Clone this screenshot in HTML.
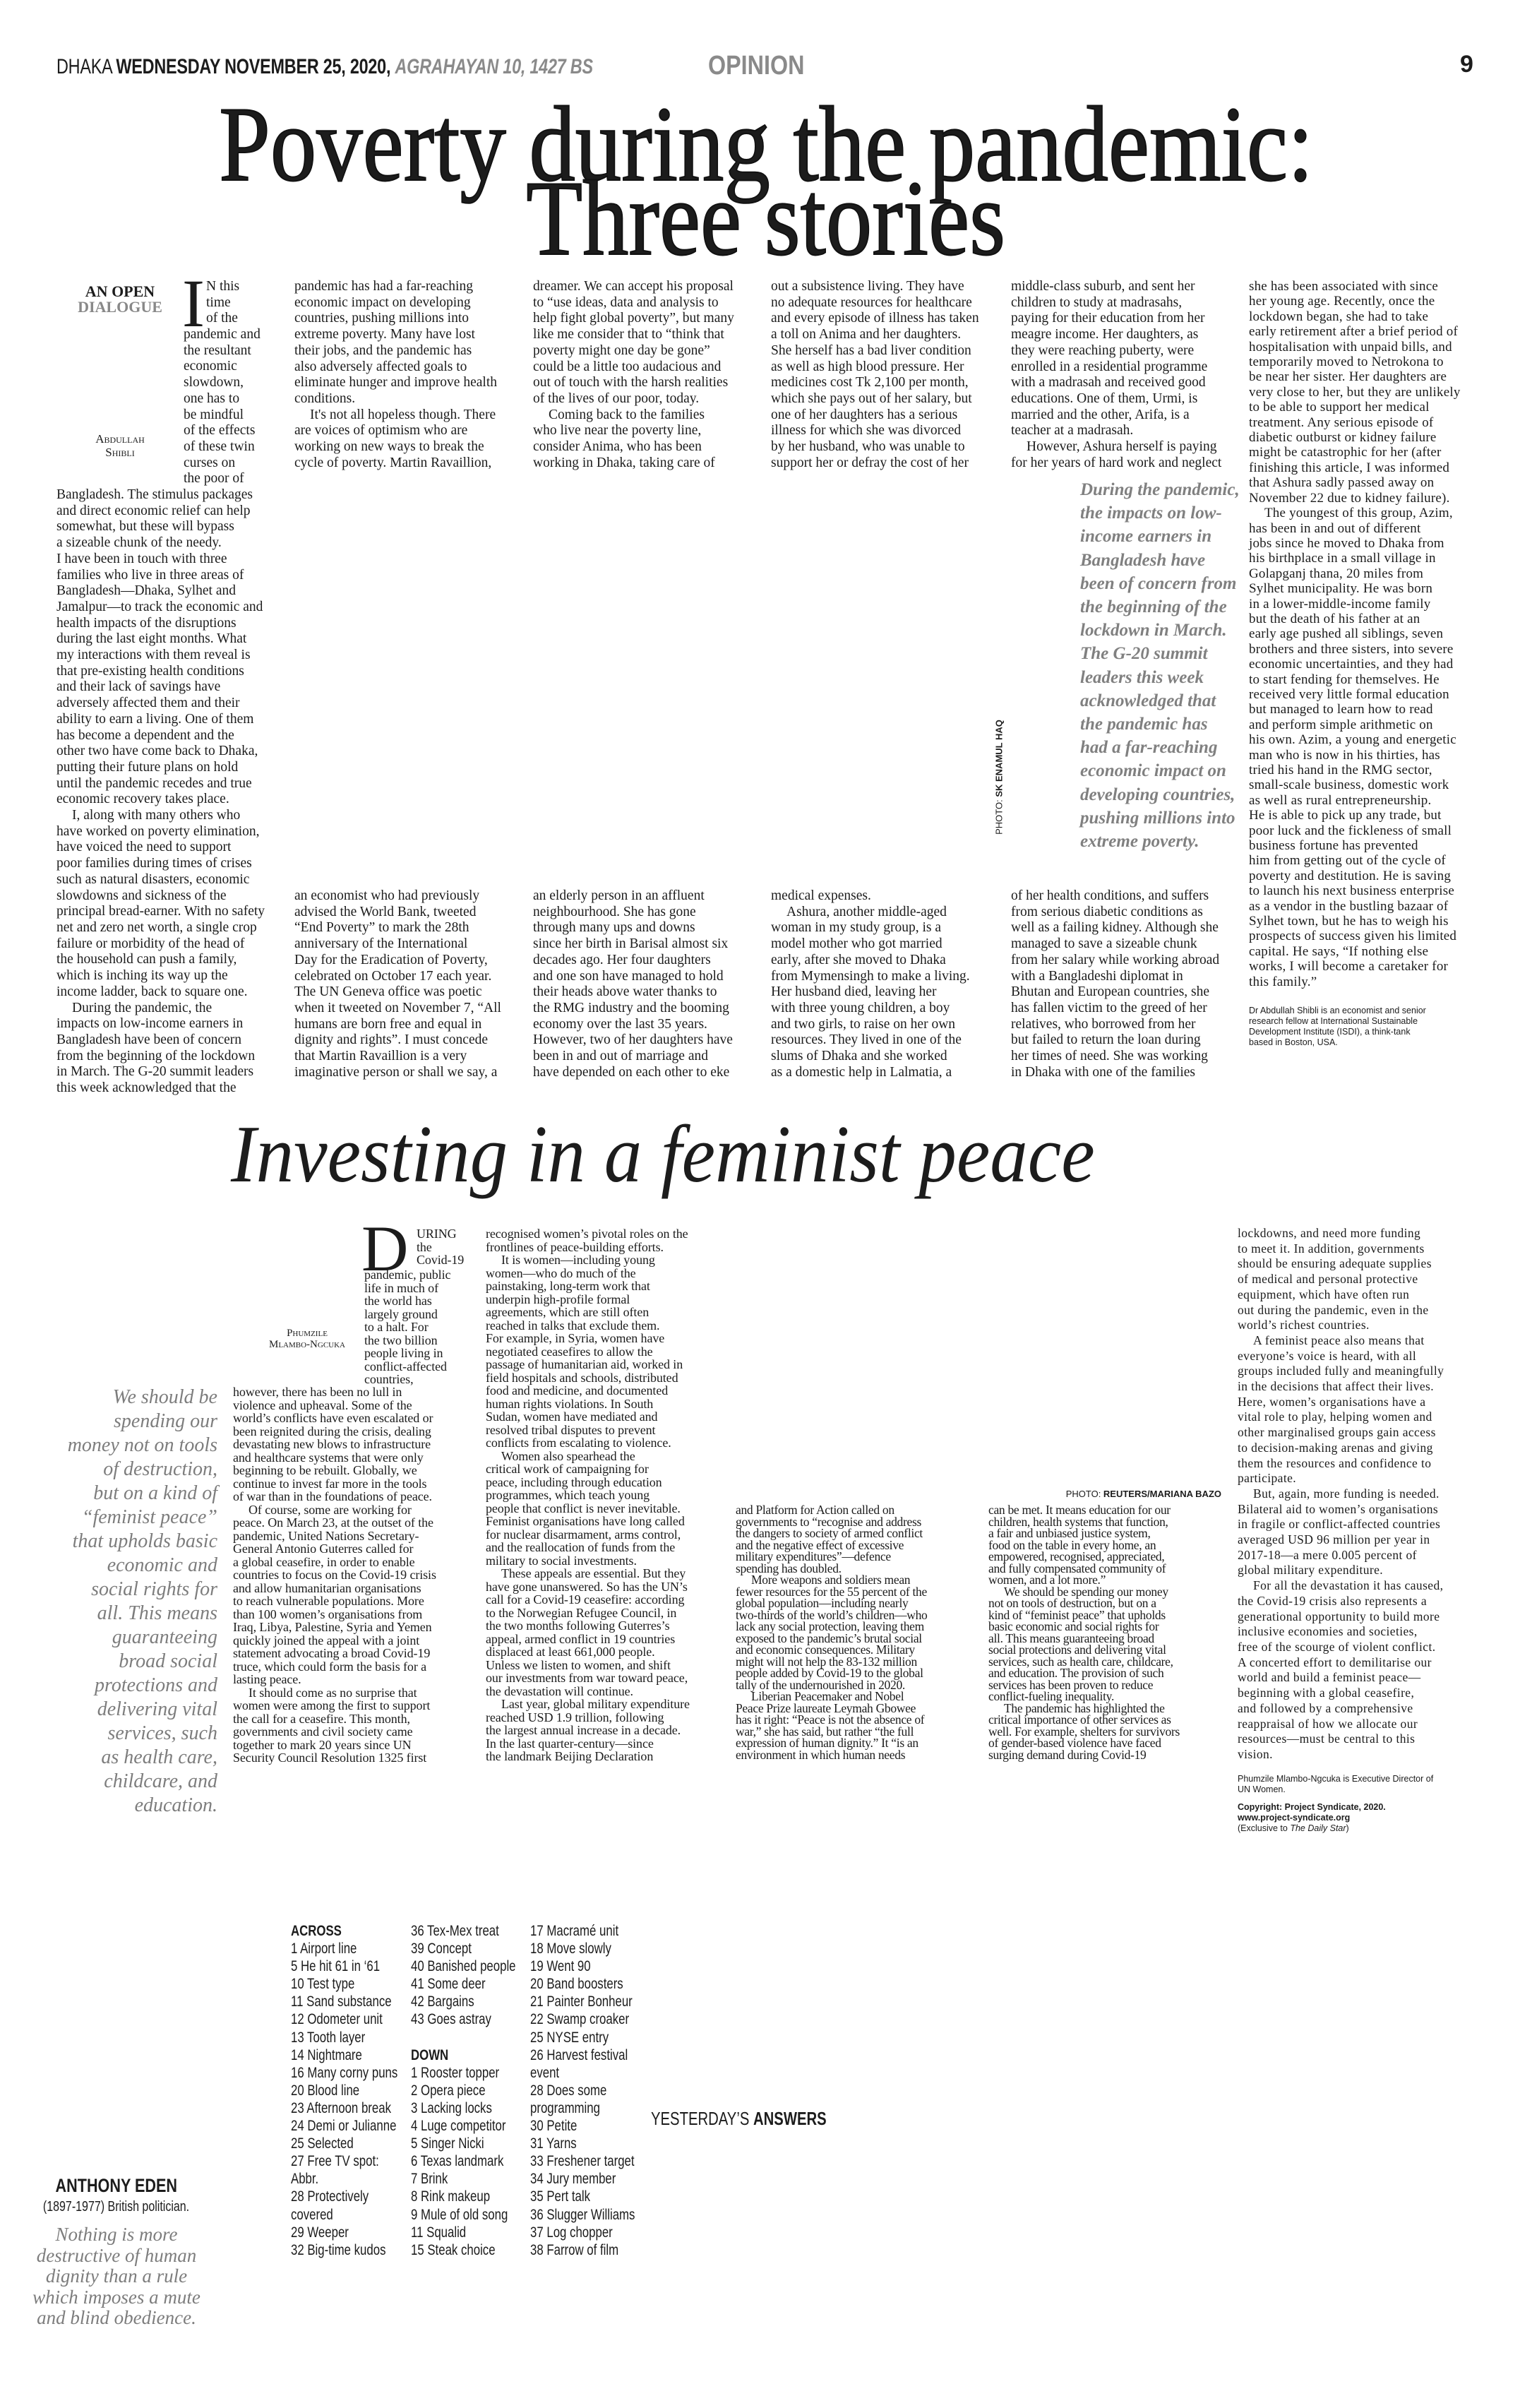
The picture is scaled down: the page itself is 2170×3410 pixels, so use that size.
<!DOCTYPE html>
<html><head><meta charset="utf-8">
<style>
*{margin:0;padding:0;box-sizing:border-box}
body{width:2170px;height:3410px;position:relative;background:#fff;font-family:"Liberation Serif",serif;color:#1c1c1c;overflow:hidden}
.a{position:absolute;white-space:nowrap}
.c1{font-size:19.5px;line-height:22.7px}
.c6{font-size:19px;line-height:21.4px;letter-spacing:.2px}
.c2{font-size:18px;line-height:18.5px;letter-spacing:-.1px}
.cc{font-size:17.5px;line-height:16.5px;letter-spacing:-.3px}
.ce{font-size:17.5px;line-height:21.7px;letter-spacing:.4px}
.i{display:inline-block;width:22px}
.sans{font-family:"Liberation Sans",sans-serif}
.cw{font-family:"Liberation Sans",sans-serif;font-size:21px;line-height:25.1px;transform:scaleX(.8);transform-origin:left top}
.tt{-webkit-text-stroke:2px #111}
</style></head><body>

<!-- header -->
<div class="a sans" style="left:80px;top:78px;font-size:30px;transform:scaleX(.78);transform-origin:left top;letter-spacing:-.3px">DHAKA <b>WEDNESDAY NOVEMBER 25, 2020,</b> <b><i style="color:#8a8a8a">AGRAHAYAN 10, 1427 BS</i></b></div>
<div class="a sans" style="left:1003px;top:72px;font-size:38px;font-weight:bold;color:#8a8a8a;transform:scaleX(.85);transform-origin:left top">OPINION</div>
<div class="a sans" style="left:2068px;top:72px;font-size:34px;font-weight:bold">9</div>

<!-- title -->
<div class="a tt" style="left:0;width:2170px;top:128px;text-align:center;font-size:152px;line-height:152px"><span style="display:inline-block;transform:scaleX(.86)">Poverty during the pandemic:</span></div>
<div class="a tt" style="left:0;width:2170px;top:233px;text-align:center;font-size:152px;line-height:152px"><span style="display:inline-block;transform:scaleX(.86)">Three stories</span></div>

<!-- article 1 byline -->
<div class="a" style="left:90px;width:160px;top:402px;text-align:center;font-size:22px;line-height:22px;font-weight:bold">AN OPEN<br><span style="color:#888">DIALOGUE</span></div>
<div class="a" style="left:90px;width:160px;top:612px;text-align:center;font-size:17px;line-height:19px;font-variant:small-caps">Abdullah<br>Shibli</div>
<div class="a" style="left:258px;top:382px;font-size:96px;line-height:96px">I</div>

<div class="a c1" style="left:292px;top:395px">N this<br>time<br>of the</div>
<div class="a c1" style="left:260px;top:463px">pandemic and<br>the resultant<br>economic<br>slowdown,<br>one has to<br>be mindful<br>of the effects<br>of these twin<br>curses on<br>the poor of</div>
<div class="a c1" style="left:80px;top:690px">Bangladesh. The stimulus packages<br>and direct economic relief can help<br>somewhat, but these will bypass<br>a sizeable chunk of the needy.<br>I have been in touch with three<br>families who live in three areas of<br>Bangladesh—Dhaka, Sylhet and<br>Jamalpur—to track the economic and<br>health impacts of the disruptions<br>during the last eight months. What<br>my interactions with them reveal is<br>that pre-existing health conditions<br>and their lack of savings have<br>adversely affected them and their<br>ability to earn a living. One of them<br>has become a dependent and the<br>other two have come back to Dhaka,<br>putting their future plans on hold<br>until the pandemic recedes and true<br>economic recovery takes place.<br><span class="i"></span>I, along with many others who<br>have worked on poverty elimination,<br>have voiced the need to support<br>poor families during times of crises<br>such as natural disasters, economic<br>slowdowns and sickness of the<br>principal bread-earner. With no safety<br>net and zero net worth, a single crop<br>failure or morbidity of the head of<br>the household can push a family,<br>which is inching its way up the<br>income ladder, back to square one.<br><span class="i"></span>During the pandemic, the<br>impacts on low-income earners in<br>Bangladesh have been of concern<br>from the beginning of the lockdown<br>in March. The G-20 summit leaders<br>this week acknowledged that the</div>

<div class="a c1" style="left:417px;top:395px">pandemic has had a far-reaching<br>economic impact on developing<br>countries, pushing millions into<br>extreme poverty. Many have lost<br>their jobs, and the pandemic has<br>also adversely affected goals to<br>eliminate hunger and improve health<br>conditions.<br><span class="i"></span>It's not all hopeless though. There<br>are voices of optimism who are<br>working on new ways to break the<br>cycle of poverty. Martin Ravaillion,</div>
<div class="a c1" style="left:417px;top:1258px">an economist who had previously<br>advised the World Bank, tweeted<br>“End Poverty” to mark the 28th<br>anniversary of the International<br>Day for the Eradication of Poverty,<br>celebrated on October 17 each year.<br>The UN Geneva office was poetic<br>when it tweeted on November 7, “All<br>humans are born free and equal in<br>dignity and rights”. I must concede<br>that Martin Ravaillion is a very<br>imaginative person or shall we say, a</div>

<div class="a c1" style="left:755px;top:395px">dreamer. We can accept his proposal<br>to “use ideas, data and analysis to<br>help fight global poverty”, but many<br>like me consider that to “think that<br>poverty might one day be gone”<br>could be a little too audacious and<br>out of touch with the harsh realities<br>of the lives of our poor, today.<br><span class="i"></span>Coming back to the families<br>who live near the poverty line,<br>consider Anima, who has been<br>working in Dhaka, taking care of</div>
<div class="a c1" style="left:755px;top:1258px">an elderly person in an affluent<br>neighbourhood. She has gone<br>through many ups and downs<br>since her birth in Barisal almost six<br>decades ago. Her four daughters<br>and one son have managed to hold<br>their heads above water thanks to<br>the RMG industry and the booming<br>economy over the last 35 years.<br>However, two of her daughters have<br>been in and out of marriage and<br>have depended on each other to eke</div>

<div class="a c1" style="left:1092px;top:395px">out a subsistence living. They have<br>no adequate resources for healthcare<br>and every episode of illness has taken<br>a toll on Anima and her daughters.<br>She herself has a bad liver condition<br>as well as high blood pressure. Her<br>medicines cost Tk 2,100 per month,<br>which she pays out of her salary, but<br>one of her daughters has a serious<br>illness for which she was divorced<br>by her husband, who was unable to<br>support her or defray the cost of her</div>
<div class="a c1" style="left:1092px;top:1258px">medical expenses.<br><span class="i"></span>Ashura, another middle-aged<br>woman in my study group, is a<br>model mother who got married<br>early, after she moved to Dhaka<br>from Mymensingh to make a living.<br>Her husband died, leaving her<br>with three young children, a boy<br>and two girls, to raise on her own<br>resources. They lived in one of the<br>slums of Dhaka and she worked<br>as a domestic help in Lalmatia, a</div>

<div class="a c1" style="left:1432px;top:395px">middle-class suburb, and sent her<br>children to study at madrasahs,<br>paying for their education from her<br>meagre income. Her daughters, as<br>they were reaching puberty, were<br>enrolled in a residential programme<br>with a madrasah and received good<br>educations. One of them, Urmi, is<br>married and the other, Arifa, is a<br>teacher at a madrasah.<br><span class="i"></span>However, Ashura herself is paying<br>for her years of hard work and neglect</div>
<div class="a c1" style="left:1432px;top:1258px">of her health conditions, and suffers<br>from serious diabetic conditions as<br>well as a failing kidney. Although she<br>managed to save a sizeable chunk<br>from her salary while working abroad<br>with a Bangladeshi diplomat in<br>Bhutan and European countries, she<br>has fallen victim to the greed of her<br>relatives, who borrowed from her<br>but failed to return the loan during<br>her times of need. She was working<br>in Dhaka with one of the families</div>

<div class="a" style="left:1530px;top:677px;font-size:25px;line-height:33.2px;font-weight:bold;font-style:italic;color:#808080">During the pandemic,<br>the impacts on low-<br>income earners in<br>Bangladesh have<br>been of concern from<br>the beginning of the<br>lockdown in March.<br>The G-20 summit<br>leaders this week<br>acknowledged that<br>the pandemic has<br>had a far-reaching<br>economic impact on<br>developing countries,<br>pushing millions into<br>extreme poverty.</div>
<div class="a sans" style="left:1330px;top:1093px;width:170px;font-size:13px;transform:rotate(-90deg);transform-origin:center;text-align:center">PHOTO: <b>SK ENAMUL HAQ</b></div>

<div class="a c6" style="left:1769px;top:395px">she has been associated with since<br>her young age. Recently, once the<br>lockdown began, she had to take<br>early retirement after a brief period of<br>hospitalisation with unpaid bills, and<br>temporarily moved to Netrokona to<br>be near her sister. Her daughters are<br>very close to her, but they are unlikely<br>to be able to support her medical<br>treatment. Any serious episode of<br>diabetic outburst or kidney failure<br>might be catastrophic for her (after<br>finishing this article, I was informed<br>that Ashura sadly passed away on<br>November 22 due to kidney failure).<br><span class="i"></span>The youngest of this group, Azim,<br>has been in and out of different<br>jobs since he moved to Dhaka from<br>his birthplace in a small village in<br>Golapganj thana, 20 miles from<br>Sylhet municipality. He was born<br>in a lower-middle-income family<br>but the death of his father at an<br>early age pushed all siblings, seven<br>brothers and three sisters, into severe<br>economic uncertainties, and they had<br>to start fending for themselves. He<br>received very little formal education<br>but managed to learn how to read<br>and perform simple arithmetic on<br>his own. Azim, a young and energetic<br>man who is now in his thirties, has<br>tried his hand in the RMG sector,<br>small-scale business, domestic work<br>as well as rural entrepreneurship.<br>He is able to pick up any trade, but<br>poor luck and the fickleness of small<br>business fortune has prevented<br>him from getting out of the cycle of<br>poverty and destitution. He is saving<br>to launch his next business enterprise<br>as a vendor in the bustling bazaar of<br>Sylhet town, but he has to weigh his<br>prospects of success given his limited<br>capital. He says, “If nothing else<br>works, I will become a caretaker for<br>this family.”</div>
<div class="a sans" style="left:1769px;top:1424px;font-size:12.5px;line-height:15px">Dr Abdullah Shibli is an economist and senior<br>research fellow at International Sustainable<br>Development Institute (ISDI), a think-tank<br>based in Boston, USA.</div>

<!-- article 2 -->
<div class="a" style="left:0;width:1878px;top:1575px;text-align:center;font-size:115px;line-height:120px;font-style:italic"><span style="display:inline-block;transform:scaleX(.93)">Investing in a feminist peace</span></div>

<div class="a" style="left:350px;width:170px;top:1880px;text-align:center;font-size:15px;line-height:16px;font-variant:small-caps">Phumzile<br>Mlambo-Ngcuka</div>
<div class="a" style="left:512px;top:1722px;font-size:92px;line-height:92px">D</div>
<div class="a" style="left:0;width:308px;top:1962px;text-align:right;font-size:28px;line-height:34px;font-style:italic;color:#7d7d7d">We should be<br>spending our<br>money not on tools<br>of destruction,<br>but on a kind of<br>“feminist peace”<br>that upholds basic<br>economic and<br>social rights for<br>all. This means<br>guaranteeing<br>broad social<br>protections and<br>delivering vital<br>services, such<br>as health care,<br>childcare, and<br>education.</div>

<div class="a c2" style="left:590px;top:1738px">URING<br>the<br>Covid-19</div>
<div class="a c2" style="left:516px;top:1796px">pandemic, public<br>life in much of<br>the world has<br>largely ground<br>to a halt. For<br>the two billion<br>people living in<br>conflict-affected<br>countries,</div>
<div class="a c2" style="left:330px;top:1962px">however, there has been no lull in<br>violence and upheaval. Some of the<br>world’s conflicts have even escalated or<br>been reignited during the crisis, dealing<br>devastating new blows to infrastructure<br>and healthcare systems that were only<br>beginning to be rebuilt. Globally, we<br>continue to invest far more in the tools<br>of war than in the foundations of peace.<br><span class="i"></span>Of course, some are working for<br>peace. On March 23, at the outset of the<br>pandemic, United Nations Secretary-<br>General Antonio Guterres called for<br>a global ceasefire, in order to enable<br>countries to focus on the Covid-19 crisis<br>and allow humanitarian organisations<br>to reach vulnerable populations. More<br>than 100 women’s organisations from<br>Iraq, Libya, Palestine, Syria and Yemen<br>quickly joined the appeal with a joint<br>statement advocating a broad Covid-19<br>truce, which could form the basis for a<br>lasting peace.<br><span class="i"></span>It should come as no surprise that<br>women were among the first to support<br>the call for a ceasefire. This month,<br>governments and civil society came<br>together to mark 20 years since UN<br>Security Council Resolution 1325 first</div>

<div class="a c2" style="left:688px;top:1738px">recognised women’s pivotal roles on the<br>frontlines of peace-building efforts.<br><span class="i"></span>It is women—including young<br>women—who do much of the<br>painstaking, long-term work that<br>underpin high-profile formal<br>agreements, which are still often<br>reached in talks that exclude them.<br>For example, in Syria, women have<br>negotiated ceasefires to allow the<br>passage of humanitarian aid, worked in<br>field hospitals and schools, distributed<br>food and medicine, and documented<br>human rights violations. In South<br>Sudan, women have mediated and<br>resolved tribal disputes to prevent<br>conflicts from escalating to violence.<br><span class="i"></span>Women also spearhead the<br>critical work of campaigning for<br>peace, including through education<br>programmes, which teach young<br>people that conflict is never inevitable.<br>Feminist organisations have long called<br>for nuclear disarmament, arms control,<br>and the reallocation of funds from the<br>military to social investments.<br><span class="i"></span>These appeals are essential. But they<br>have gone unanswered. So has the UN’s<br>call for a Covid-19 ceasefire: according<br>to the Norwegian Refugee Council, in<br>the two months following Guterres’s<br>appeal, armed conflict in 19 countries<br>displaced at least 661,000 people.<br>Unless we listen to women, and shift<br>our investments from war toward peace,<br>the devastation will continue.<br><span class="i"></span>Last year, global military expenditure<br>reached USD 1.9 trillion, following<br>the largest annual increase in a decade.<br>In the last quarter-century—since<br>the landmark Beijing Declaration</div>

<div class="a sans" style="left:1400px;width:330px;top:2108px;text-align:right;font-size:13px">PHOTO: <b>REUTERS/MARIANA BAZO</b></div>

<div class="a cc" style="left:1042px;top:2130px">and Platform for Action called on<br>governments to “recognise and address<br>the dangers to society of armed conflict<br>and the negative effect of excessive<br>military expenditures”—defence<br>spending has doubled.<br><span class="i"></span>More weapons and soldiers mean<br>fewer resources for the 55 percent of the<br>global population—including nearly<br>two-thirds of the world’s children—who<br>lack any social protection, leaving them<br>exposed to the pandemic’s brutal social<br>and economic consequences. Military<br>might will not help the 83-132 million<br>people added by Covid-19 to the global<br>tally of the undernourished in 2020.<br><span class="i"></span>Liberian Peacemaker and Nobel<br>Peace Prize laureate Leymah Gbowee<br>has it right: “Peace is not the absence of<br>war,” she has said, but rather “the full<br>expression of human dignity.” It “is an<br>environment in which human needs</div>

<div class="a cc" style="left:1400px;top:2130px">can be met. It means education for our<br>children, health systems that function,<br>a fair and unbiased justice system,<br>food on the table in every home, an<br>empowered, recognised, appreciated,<br>and fully compensated community of<br>women, and a lot more.”<br><span class="i"></span>We should be spending our money<br>not on tools of destruction, but on a<br>kind of “feminist peace” that upholds<br>basic economic and social rights for<br>all. This means guaranteeing broad<br>social protections and delivering vital<br>services, such as health care, childcare,<br>and education. The provision of such<br>services has been proven to reduce<br>conflict-fueling inequality.<br><span class="i"></span>The pandemic has highlighted the<br>critical importance of other services as<br>well. For example, shelters for survivors<br>of gender-based violence have faced<br>surging demand during Covid-19</div>

<div class="a ce" style="left:1753px;top:1736px">lockdowns, and need more funding<br>to meet it. In addition, governments<br>should be ensuring adequate supplies<br>of medical and personal protective<br>equipment, which have often run<br>out during the pandemic, even in the<br>world’s richest countries.<br><span class="i"></span>A feminist peace also means that<br>everyone’s voice is heard, with all<br>groups included fully and meaningfully<br>in the decisions that affect their lives.<br>Here, women’s organisations have a<br>vital role to play, helping women and<br>other marginalised groups gain access<br>to decision-making arenas and giving<br>them the resources and confidence to<br>participate.<br><span class="i"></span>But, again, more funding is needed.<br>Bilateral aid to women’s organisations<br>in fragile or conflict-affected countries<br>averaged USD 96 million per year in<br>2017-18—a mere 0.005 percent of<br>global military expenditure.<br><span class="i"></span>For all the devastation it has caused,<br>the Covid-19 crisis also represents a<br>generational opportunity to build more<br>inclusive economies and societies,<br>free of the scourge of violent conflict.<br>A concerted effort to demilitarise our<br>world and build a feminist peace—<br>beginning with a global ceasefire,<br>and followed by a comprehensive<br>reappraisal of how we allocate our<br>resources—must be central to this<br>vision.</div>
<div class="a sans" style="left:1753px;top:2512px;font-size:12.5px;line-height:15px">Phumzile Mlambo-Ngcuka is Executive Director of<br>UN Women.</div>
<div class="a sans" style="left:1753px;top:2552px;font-size:12.5px;line-height:15px"><b>Copyright: Project Syndicate, 2020.<br>www.project-syndicate.org</b><br>(Exclusive to <i>The Daily Star</i>)</div>

<!-- crossword -->
<div class="a cw" style="left:412px;top:2722px"><b>ACROSS</b><br>1 Airport line<br>5 He hit 61 in ‘61<br>10 Test type<br>11 Sand substance<br>12 Odometer unit<br>13 Tooth layer<br>14 Nightmare<br>16 Many corny puns<br>20 Blood line<br>23 Afternoon break<br>24 Demi or Julianne<br>25 Selected<br>27 Free TV spot:<br>Abbr.<br>28 Protectively<br>covered<br>29 Weeper<br>32 Big-time kudos</div>
<div class="a cw" style="left:582px;top:2722px">36 Tex-Mex treat<br>39 Concept<br>40 Banished people<br>41 Some deer<br>42 Bargains<br>43 Goes astray<br><br><b>DOWN</b><br>1 Rooster topper<br>2 Opera piece<br>3 Lacking locks<br>4 Luge competitor<br>5 Singer Nicki<br>6 Texas landmark<br>7 Brink<br>8 Rink makeup<br>9 Mule of old song<br>11 Squalid<br>15 Steak choice</div>
<div class="a cw" style="left:751px;top:2722px">17 Macramé unit<br>18 Move slowly<br>19 Went 90<br>20 Band boosters<br>21 Painter Bonheur<br>22 Swamp croaker<br>25 NYSE entry<br>26 Harvest festival<br>event<br>28 Does some<br>programming<br>30 Petite<br>31 Yarns<br>33 Freshener target<br>34 Jury member<br>35 Pert talk<br>36 Slugger Williams<br>37 Log chopper<br>38 Farrow of film</div>
<div class="a sans" style="left:922px;top:2985px;font-size:26px;transform:scaleX(.78);transform-origin:left top">YESTERDAY’S <b>ANSWERS</b></div>

<div class="a sans" style="left:40px;width:250px;top:3080px;text-align:center;font-size:27px;font-weight:bold"><span style="display:inline-block;transform:scaleX(.8)">ANTHONY EDEN</span></div>
<div class="a sans" style="left:20px;width:290px;top:3114px;text-align:center;font-size:20px"><span style="display:inline-block;transform:scaleX(.8)">(1897-1977) British politician.</span></div>
<div class="a" style="left:20px;width:290px;top:3150px;text-align:center;font-size:27px;line-height:29.5px;font-style:italic;color:#7d7d7d">Nothing is more<br>destructive of human<br>dignity than a rule<br>which imposes a mute<br>and blind obedience.</div>

</body></html>
